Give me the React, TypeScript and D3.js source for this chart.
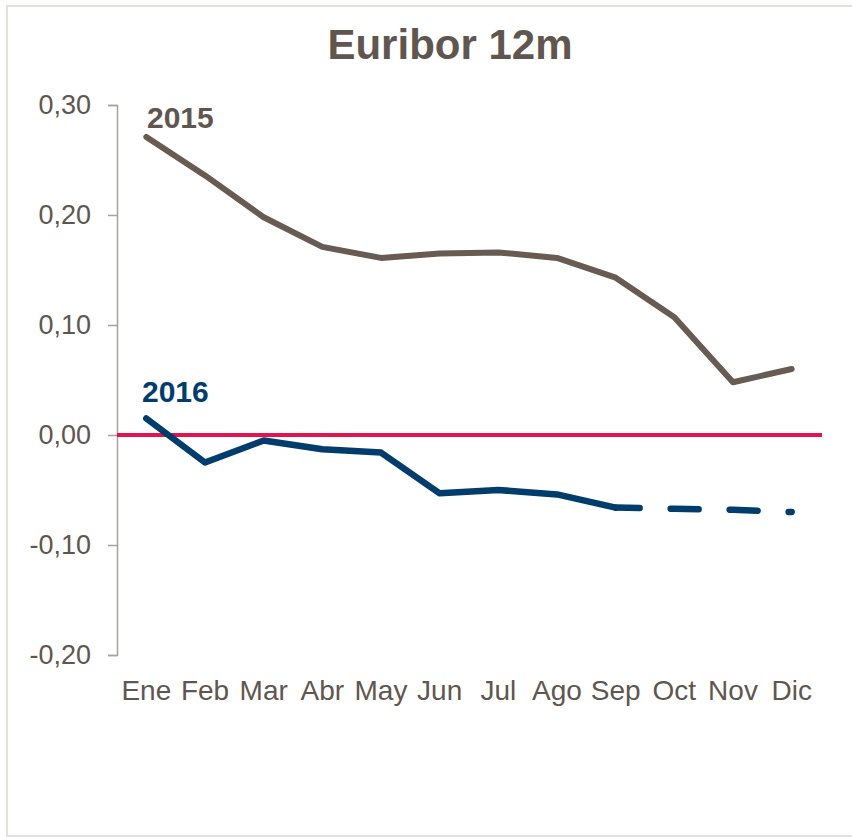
import React, { useEffect, useRef } from "react"
import * as d3 from "d3"

const months = ["Ene", "Feb", "Mar", "Abr", "May", "Jun", "Jul", "Ago", "Sep", "Oct", "Nov", "Dic"]
const values2015 = [0.271, 0.236, 0.198, 0.171, 0.161, 0.165, 0.166, 0.161, 0.143, 0.107, 0.048, 0.060]
// 2016: Ene..Sep are observed, Sep..Dic are the dashed forecast
const values2016 = [0.015, -0.025, -0.005, -0.013, -0.016, -0.053, -0.050, -0.054, -0.066]
const forecast2016 = [-0.066, -0.067, -0.068, -0.070]
const forecastMonths = ["Sep", "Oct", "Nov", "Dic"]
const yTicks = [-0.2, -0.1, 0, 0.1, 0.2, 0.3]

const W = 852
const H = 837
const FONT = "'Liberation Sans', Arial, sans-serif"
const TEXT = "#5f5650"
const GREY_LINE = "#675b52"
const BLUE = "#003c6c"
const RED = "#e2134f"

export default function App() {
    const ref = useRef(null)

    useEffect(() => {
        const svg = d3.select(ref.current)
        svg.selectAll("*").remove()

        const left = 117
        const top = 105
        const bottom = 655
        const right = 821

        const x = d3.scaleBand().domain(months).range([left, right])
        const y = d3.scaleLinear().domain([-0.2, 0.3]).range([bottom, top])
        const cx = (m) => x(m) + x.bandwidth() / 2

        // card border
        svg.append("rect")
            .attr("x", 7).attr("y", 6)
            .attr("width", 900).attr("height", 830)
            .attr("fill", "#fff")
            .attr("stroke", "#e4e1dd")
            .attr("stroke-width", 2)

        svg.append("text")
            .attr("x", 450).attr("y", 59)
            .attr("text-anchor", "middle")
            .attr("font-family", FONT)
            .attr("font-weight", "bold")
            .attr("font-size", 42)
            .attr("fill", TEXT)
            .text("Euribor 12m")

        // y axis
        const yAxis = d3.axisLeft(y)
            .tickValues(yTicks)
            .tickSize(9)
            .tickPadding(17)
            .tickFormat(d => d3.format(".2f")(d).replace(".", ",").replace("−", "-"))

        const gy = svg.append("g")
            .attr("transform", `translate(${left},0)`)
            .call(yAxis)
        gy.select(".domain").attr("stroke", "#a8a29c").attr("stroke-width", 1.5)
        gy.selectAll(".tick line").attr("stroke", "#a8a29c").attr("stroke-width", 1.5)
        gy.selectAll(".tick text")
            .attr("font-family", FONT)
            .attr("font-size", 27)
            .attr("fill", TEXT)

        // x labels, no axis line
        const xAxis = d3.axisBottom(x).tickSize(0).tickPadding(0)
        const gx = svg.append("g")
            .attr("transform", `translate(0,680)`)
            .call(xAxis)
        gx.select(".domain").remove()
        gx.selectAll(".tick text")
            .attr("dy", "0.71em")
            .attr("font-family", FONT)
            .attr("font-size", 28)
            .attr("fill", TEXT)

        // zero line
        svg.append("line")
            .attr("x1", left).attr("x2", right + 1)
            .attr("y1", y(0)).attr("y2", y(0))
            .attr("stroke", RED)
            .attr("stroke-width", 4)

        const line = d3.line()
            .x(d => cx(d[0]))
            .y(d => y(d[1]))

        svg.append("path")
            .datum(months.map((m, i) => [m, values2015[i]]))
            .attr("d", line)
            .attr("fill", "none")
            .attr("stroke", GREY_LINE)
            .attr("stroke-width", 6)
            .attr("stroke-linecap", "round")
            .attr("stroke-linejoin", "round")

        svg.append("path")
            .datum(values2016.map((v, i) => [months[i], v]))
            .attr("d", line)
            .attr("fill", "none")
            .attr("stroke", BLUE)
            .attr("stroke-width", 6.5)
            .attr("stroke-linecap", "round")
            .attr("stroke-linejoin", "round")

        svg.append("path")
            .datum(forecastMonths.map((m, i) => [m, forecast2016[i]]))
            .attr("d", line)
            .attr("fill", "none")
            .attr("stroke", BLUE)
            .attr("stroke-width", 6.5)
            .attr("stroke-linecap", "round")
            .attr("stroke-dasharray", "28,31")
            .attr("stroke-dashoffset", 4)

        svg.append("text")
            .attr("x", 147).attr("y", 128)
            .attr("font-family", FONT)
            .attr("font-weight", "bold")
            .attr("font-size", 30)
            .attr("fill", TEXT)
            .text("2015")

        svg.append("text")
            .attr("x", 142).attr("y", 402)
            .attr("font-family", FONT)
            .attr("font-weight", "bold")
            .attr("font-size", 30)
            .attr("fill", BLUE)
            .text("2016")
    }, [])

    return (
        <svg
            ref={ref}
            width={W}
            height={H}
            style={{ position: "absolute", left: 0, top: 0, background: "#fff" }}
        />
    )
}
